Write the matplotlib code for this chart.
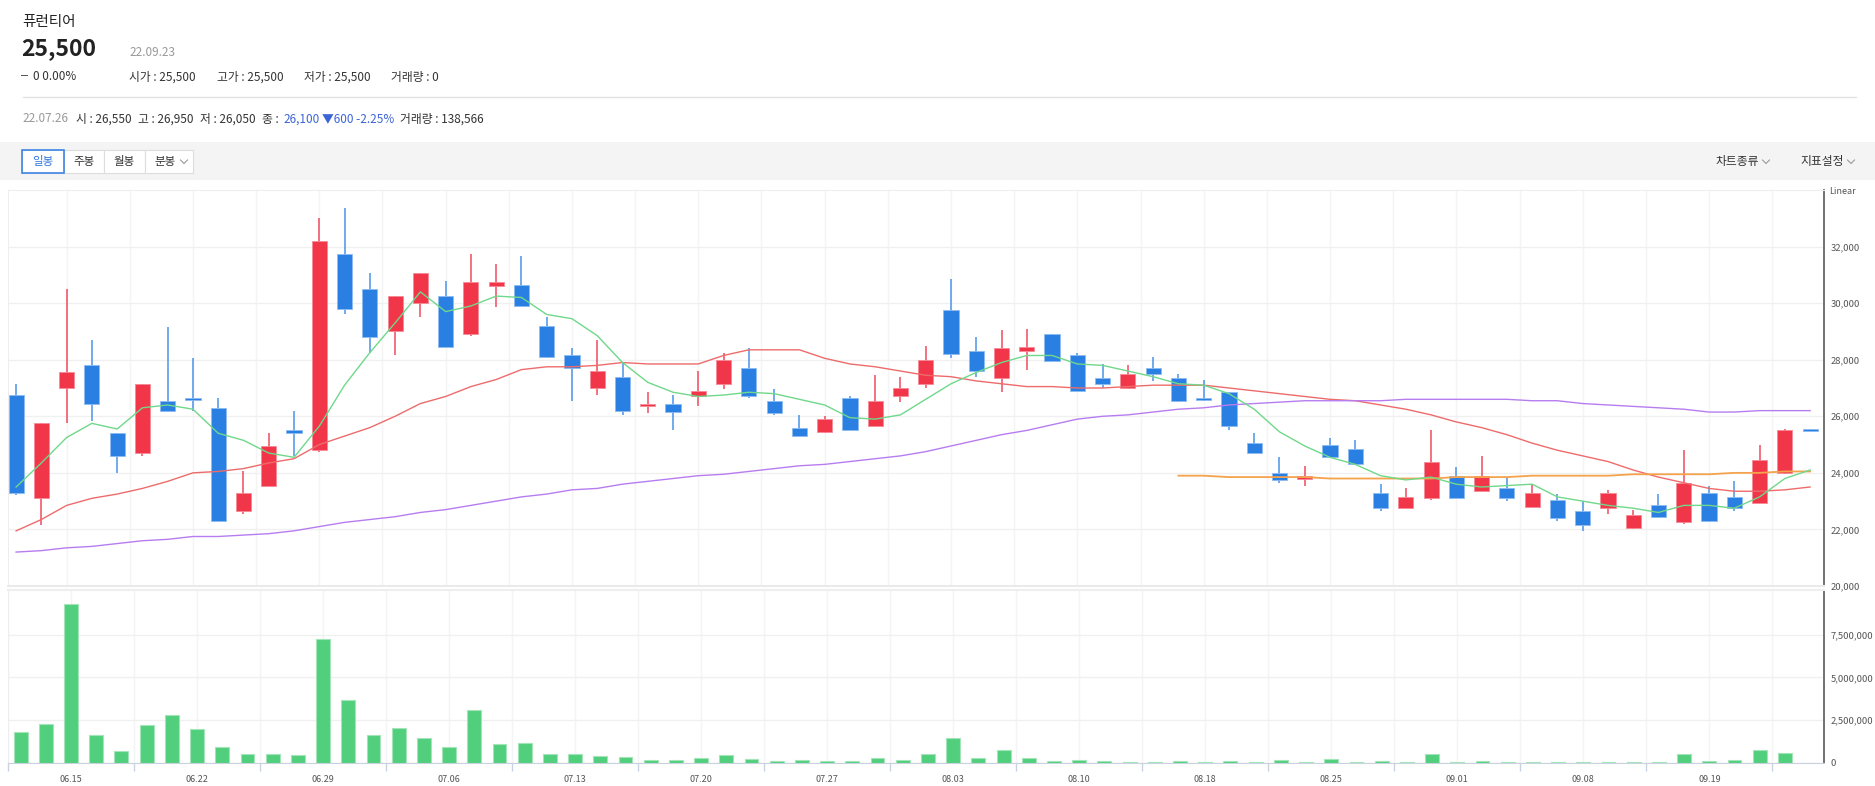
import numpy as np
import matplotlib
matplotlib.use('Agg')
import matplotlib.pyplot as plt
from matplotlib.patches import Rectangle
from matplotlib.lines import Line2D
from matplotlib.ticker import FuncFormatter

plt.rcParams['font.family'] = ['Noto Sans CJK KR', 'DejaVu Sans']

# 데이터
dates = ['06.13', '06.14', '06.15', '06.16', '06.17', '06.20', '06.21', '06.22', '06.23', '06.24',
         '06.27', '06.28', '06.29', '06.30', '07.01', '07.04', '07.05', '07.06', '07.07', '07.08',
         '07.11', '07.12', '07.13', '07.14', '07.15', '07.18', '07.19', '07.20', '07.21', '07.22',
         '07.25', '07.26', '07.27', '07.28', '07.29', '08.01', '08.02', '08.03', '08.04', '08.05',
         '08.08', '08.09', '08.10', '08.11', '08.12', '08.16', '08.17', '08.18', '08.19', '08.22',
         '08.23', '08.24', '08.25', '08.26', '08.29', '08.30', '08.31', '09.01', '09.02', '09.05',
         '09.06', '09.07', '09.08', '09.13', '09.14', '09.15', '09.16', '09.19', '09.20', '09.21',
         '09.22', '09.23']

opens = [26750, 23100, 27000, 27800, 25400, 24700, 26550, 26650, 26300, 22650,
         23550, 25500, 24800, 31750, 30500, 29000, 30000, 30250, 28900, 30600,
         30650, 29200, 28150, 27000, 27400, 26350, 26450, 26700, 27150, 27700,
         26550, 25600, 25450, 26650, 25650, 26700, 27150, 29750, 28300, 27350,
         28300, 28900, 28150, 27350, 27000, 27700, 27350, 26650, 26850, 25050,
         24000, 23800, 25000, 24850, 23300, 22750, 23100, 23900, 23350, 23450,
         22800, 23050, 22650, 22750, 22050, 22850, 22250, 23300, 23150, 22950,
         24000, 25500]
highs = [27150, 25750, 30500, 28700, 25400, 27150, 29150, 28050, 26650, 24050,
         25400, 26200, 33000, 33350, 31050, 30250, 31050, 30800, 31750, 31400,
         31650, 29500, 28400, 28700, 27900, 26850, 26750, 27600, 28250, 28400,
         26950, 26050, 26000, 26700, 27450, 27400, 28500, 30850, 28800, 29050,
         29100, 28900, 28250, 27850, 27800, 28100, 27500, 27300, 26850, 25400,
         24550, 24250, 25250, 25150, 23600, 23450, 25500, 24200, 24600, 23850,
         23600, 23250, 23000, 23400, 22700, 23250, 24800, 23550, 23700, 25000,
         25550, 25500]
lows = [23200, 22150, 25750, 25850, 24000, 24600, 26200, 26200, 22300, 22550,
        23550, 24600, 24750, 29600, 28250, 28150, 29500, 28450, 28850, 29850,
        29900, 28050, 26550, 26750, 26050, 26100, 25500, 26350, 26950, 26650,
        26050, 25300, 25400, 25500, 25650, 26500, 27000, 28050, 27400, 26850,
        27650, 27950, 26900, 27000, 27000, 27250, 26500, 26550, 25500, 24700,
        23650, 23550, 24550, 24300, 22650, 22750, 23050, 23100, 23350, 23000,
        22800, 22300, 21950, 22550, 22000, 22400, 22200, 22250, 22650, 22950,
        23950, 25500]
closes = [23300, 25750, 27550, 26450, 24600, 27150, 26200, 26600, 22300, 23300,
          24950, 25400, 32200, 29800, 28800, 30250, 31050, 28450, 30750, 30750,
          29900, 28100, 27700, 27600, 26200, 26450, 26150, 26900, 28000, 26700,
          26100, 25300, 25900, 25500, 26550, 27000, 28000, 28200, 27600, 28400,
          28450, 27950, 26900, 27150, 27500, 27500, 26550, 26600, 25650, 24700,
          23750, 23900, 24550, 24300, 22750, 23150, 24400, 23100, 23900, 23100,
          23300, 22400, 22150, 23300, 22500, 22450, 23650, 22300, 22750, 24450,
          25500, 25500]
volumes = [1800000, 2270000, 9300000, 1660000, 680000, 2190000, 2810000, 1970000, 920000, 510000,
           510000, 450000, 7250000, 3670000, 1660000, 2030000, 1450000, 920000, 3090000, 1130000,
           1170000, 510000, 510000, 390000, 330000, 160000, 160000, 270000, 450000, 215000,
           139000, 160000, 117000, 117000, 270000, 156000, 547000, 1480000, 313000, 742000,
           313000, 117000, 156000, 117000, 78000, 78000, 117000, 78000, 117000, 78000,
           156000, 78000, 215000, 78000, 117000, 78000, 508000, 78000, 117000, 78000,
           78000, 78000, 78000, 78000, 30000, 30000, 547000, 117000, 156000, 742000,
           605000, 0]

ma5 = [23500, 24350, 25250, 25750, 25550, 26300, 26400, 26250, 25400, 25150,
       24700, 24550, 25650, 27100, 28250, 29300, 30400, 29700, 29900, 30250,
       30200, 29600, 29450, 28850, 27900, 27200, 26850, 26700, 26750, 26850,
       26800, 26600, 26400, 25950, 25900, 26050, 26600, 27150, 27550, 27900,
       28150, 28150, 27850, 27800, 27600, 27400, 27150, 27100, 26800, 26250,
       25450, 24950, 24550, 24300, 23900, 23750, 23850, 23600, 23500, 23550,
       23600, 23150, 23000, 22850, 22750, 22600, 22850, 22850, 22750, 23150,
       23800, 24100]
ma20 = [21950, 22350, 22850, 23100, 23250, 23450, 23700, 24000, 24050, 24150,
        24350, 24500, 25000, 25300, 25600, 26000, 26450, 26700, 27050, 27300,
        27650, 27750, 27750, 27800, 27900, 27850, 27850, 27850, 28150, 28350,
        28350, 28350, 28050, 27850, 27750, 27600, 27450, 27400, 27250, 27150,
        27050, 27050, 27000, 27000, 27050, 27100, 27100, 27100, 27000, 26900,
        26800, 26700, 26600, 26550, 26400, 26250, 26050, 25800, 25600, 25350,
        25050, 24800, 24600, 24400, 24100, 23850, 23650, 23450, 23350, 23350,
        23400, 23500]
ma60 = [21200, 21250, 21350, 21400, 21500, 21600, 21650, 21750, 21750, 21800,
        21850, 21950, 22100, 22250, 22350, 22450, 22600, 22700, 22850, 23000,
        23150, 23250, 23400, 23450, 23600, 23700, 23800, 23900, 23950, 24050,
        24150, 24250, 24300, 24400, 24500, 24600, 24750, 24950, 25150, 25350,
        25500, 25700, 25900, 26000, 26050, 26150, 26250, 26300, 26400, 26450,
        26500, 26550, 26550, 26550, 26550, 26600, 26600, 26600, 26600, 26600,
        26550, 26550, 26450, 26400, 26350, 26300, 26250, 26150, 26150, 26200,
        26200, 26200]
ma120_start = 46
ma120 = [23900, 23900, 23850, 23850, 23850, 23850, 23800, 23800, 23800, 23800,
         23800, 23850, 23850, 23850, 23900, 23900, 23900, 23900, 23950, 23950,
         23950, 23950, 24000, 24000, 24050, 24050]

price_ticks = [20000, 22000, 24000, 26000, 28000, 30000, 32000]
volume_ticks = [0, 2500000, 5000000, 7500000]

RED = '#f2364a'
BLUE = '#2a7fe2'

W, H = 1875, 786


def fx(x):
    return x / W


def fy(y):
    return 1 - y / H


def rect(x0, y0, x1, y1, **kw):
    fig.add_artist(Rectangle((fx(x0), fy(y1)), (x1 - x0) / W, (y1 - y0) / H,
                             transform=fig.transFigure, **kw))


def chevron(xc, yc):
    fig.add_artist(Line2D([fx(xc - 3.5), fx(xc), fx(xc + 3.5)],
                          [fy(yc - 2), fy(yc + 1.5), fy(yc - 2)],
                          transform=fig.transFigure, color='#999999', lw=0.8))


fig = plt.figure(figsize=(W / 100, H / 100), dpi=100)
fig.patch.set_facecolor('white')

# 상단 정보
fig.text(fx(22), fy(22), '퓨런티어', fontsize=10.5, color='#222222', va='center')
fig.text(fx(21), fy(49), '25,500', fontsize=16.5, fontweight='bold', color='#222222', va='center')
fig.text(fx(129), fy(52), '22.09.23', fontsize=8.5, color='#999999', va='center')
fig.text(fx(21), fy(75), '━', fontsize=5, color='#333333', va='center')
fig.text(fx(33), fy(76), '0 0.00%', fontsize=8.5, color='#333333', va='center')
fig.text(fx(129), fy(77), '시가 : 25,500', fontsize=8.5, color='#333333', va='center')
fig.text(fx(217), fy(77), '고가 : 25,500', fontsize=8.5, color='#333333', va='center')
fig.text(fx(304), fy(77), '저가 : 25,500', fontsize=8.5, color='#333333', va='center')
fig.text(fx(391), fy(77), '거래량 : 0', fontsize=8.5, color='#333333', va='center')
fig.add_artist(Line2D([fx(23), fx(1856)], [fy(96.5), fy(96.5)], transform=fig.transFigure,
                      color='#e3e3e3', lw=1))

fig.text(fx(22), fy(119), '22.07.26', fontsize=8.5, color='#999999', va='center')
fig.text(fx(76), fy(119), '시 : 26,550', fontsize=8.5, color='#333333', va='center')
fig.text(fx(138), fy(119), '고 : 26,950', fontsize=8.5, color='#333333', va='center')
fig.text(fx(200), fy(119), '저 : 26,050', fontsize=8.5, color='#333333', va='center')
fig.text(fx(262), fy(119), '종 :', fontsize=8.5, color='#333333', va='center')
fig.text(fx(283), fy(119), '26,100', fontsize=8.5, color='#3b64d6', va='center')
fig.text(fx(322), fy(119), '▼600 -2.25%', fontsize=8.5, color='#3b64d6', va='center')
fig.text(fx(400), fy(119), '거래량 : 138,566', fontsize=8.5, color='#333333', va='center')

# 툴바
rect(0, 142, W, 180, facecolor='#f4f4f4', edgecolor='none', zorder=0)
buttons = ['일봉', '주봉', '월봉', '분봉']
btn_edges = [22, 63.5, 104, 144.5, 193]
for i, name in enumerate(buttons):
    x0, x1 = btn_edges[i], btn_edges[i + 1]
    rect(x0, 149.5, x1, 173, facecolor='white', edgecolor='#dddddd', lw=0.8, zorder=1)
for i, name in enumerate(buttons):
    x0, x1 = btn_edges[i], btn_edges[i + 1]
    if i == 0:
        rect(x0, 149.5, x1, 173, facecolor='none', edgecolor='#3f86e6', lw=1.2, zorder=2)
        col = '#2f78de'
    else:
        col = '#333333'
    xc = (x0 + x1) / 2 - (4 if i == 3 else 0)
    fig.text(fx(xc), fy(162), name, fontsize=8.3, color=col, ha='center', va='center', zorder=3)
chevron(184, 162)
fig.text(fx(1737), fy(161), '차트종류', fontsize=8.5, color='#333333', ha='center', va='center')
chevron(1766, 162)
fig.text(fx(1822), fy(161), '지표설정', fontsize=8.5, color='#333333', ha='center', va='center')
chevron(1851, 162)

# 가격 차트
ax = fig.add_axes([fx(8), fy(586), (1824 - 8) / W, (586 - 190) / H])
ax2 = fig.add_axes([fx(8), fy(763), (1824 - 8) / W, (763 - 590) / H])

x = np.arange(len(dates))
o = np.array(opens)
c = np.array(closes)
up = c > o
body_col = np.where(up, RED, BLUE)
wick_col = np.where(up, '#f04a5c', '#4a93ea')
edge_col = np.where(up, '#f58a96', '#8dbcf2')
body_h = np.abs(c - o).astype(float)
body_b = np.minimum(o, c).astype(float)
min_h = 70
thin = body_h < min_h
body_b[thin] = body_b[thin] - (min_h - body_h[thin]) / 2
body_h[thin] = min_h

grid_pos = np.arange(-0.5, len(dates), 2.5)
for a in (ax, ax2):
    for g in grid_pos:
        a.axvline(g, color='#f4f4f4', lw=1, zorder=0)

ax.vlines(x, lows, highs, colors=wick_col, lw=1.1, zorder=2)
ax.bar(x, body_h, bottom=body_b, width=0.6, color=body_col, edgecolor=edge_col, lw=0.6, zorder=3)
ax.plot(x, ma20, color='#ee6b6b', lw=1.0, zorder=4)
ax.plot(x, ma60, color='#b77df0', lw=1.0, zorder=4)
ax.plot(x[ma120_start:], ma120, color='#f4a24c', lw=1.3, zorder=4)
ax.plot(x, ma5, color='#6fd88a', lw=1.0, zorder=5)

xlim = (-0.32, 71.55)
ax.set_xlim(*xlim)
ax.set_ylim(20000, 34000)
ax.set_xticks([])
ax.yaxis.tick_right()
ax.set_yticks(price_ticks)
ax.yaxis.set_major_formatter(FuncFormatter(lambda v, p: f'{int(v):,}'))
ax.tick_params(axis='y', length=0, pad=5, labelsize=6.8, labelcolor='#555555')
ax.grid(axis='y', color='#f0f0f0', lw=1, zorder=0)
ax.set_axisbelow(True)
for s in ('top', 'left'):
    ax.spines[s].set_color('#eeeeee')
ax.spines['bottom'].set_color('#eaeaea')
ax.spines['bottom'].set_linewidth(1.5)
ax.spines['right'].set_color('#666666')
ax.spines['right'].set_linewidth(1.3)
fig.text(fx(1829), fy(191), 'Linear', fontsize=6.5, color='#555555', va='center')

# 거래량
ax2.bar(x, volumes, width=0.55, color='#52cf7c', edgecolor='#a3e5b9', lw=0.8, zorder=3)
ax2.set_xlim(*xlim)
ax2.set_ylim(0, 10100000)
ax2.yaxis.tick_right()
ax2.set_yticks(volume_ticks)
ax2.yaxis.set_major_formatter(FuncFormatter(lambda v, p: f'{int(v):,}'))
ax2.tick_params(axis='y', length=0, pad=5, labelsize=6.8, labelcolor='#555555')
ax2.grid(axis='y', color='#f0f0f0', lw=1, zorder=0)
ax2.set_axisbelow(True)
label_pos = x[2::5]
ax2.set_xticks(label_pos)
ax2.set_xticklabels([dates[i] for i in label_pos])
ax2.set_xticks(np.arange(-0.5, len(dates), 5), minor=True)
ax2.tick_params(axis='x', which='major', length=0, pad=9, labelsize=6.5, labelcolor='#555555')
ax2.tick_params(axis='x', which='minor', length=6, width=1, color='#c9d3e0')
ax2.spines['left'].set_color('#eeeeee')
ax2.spines['top'].set_color('#eeeeee')
ax2.spines['top'].set_linewidth(1.5)
ax2.spines['bottom'].set_color('#c9d3e0')
ax2.spines['right'].set_color('#666666')
ax2.spines['right'].set_linewidth(1.3)

fig.savefig('out.png', dpi=100)
